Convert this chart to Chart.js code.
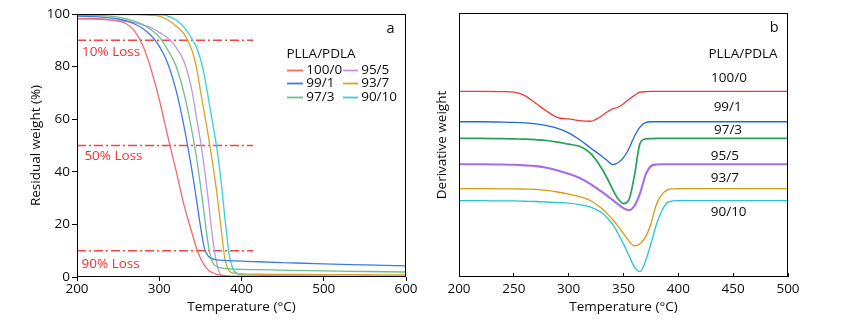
<!DOCTYPE html>
<html><head><meta charset="utf-8">
<script src="https://cdn.jsdelivr.net/npm/chart.js@4.4.1/dist/chart.umd.min.js"></script>
<style>
html,body{margin:0;padding:0;background:#fff;}
#wrap{position:relative;width:865px;height:324px;overflow:hidden;background:#fff;}
#c1{position:absolute;left:0;top:0;}
#c2{position:absolute;left:430px;top:0;}
</style></head><body>
<div id="wrap"><canvas id="c1" width="430" height="324" style="width:430px;height:324px"></canvas><canvas id="c2" width="435" height="324" style="width:435px;height:324px"></canvas></div>
<script>
// ---------- DATA ----------
const seriesNames = ['100/0','99/1','97/3','95/5','93/7','90/10'];

// (a) TGA residual weight (%)
const tgaTemps = [200,220,240,250,260,270,280,290,300,310,320,330,340,345,350,355,360,365,370,375,380,385,390,395,400,420,450,500,550,600];
const tga100_0 = [98.3,98.2,97.8,97.3,96.3,93.5,88.0,79.0,67.5,54.0,41.0,27.5,16.5,11.2,7.2,4.4,2.6,1.6,1.0,0.7,0.5,0.4,0.35,0.3,0.3,0.2,0.15,0.05,0,0];
const tga99_1  = [99.2,99.0,98.5,98.1,97.4,96.2,94.5,91.8,87.8,81.5,71.5,57.5,40.0,30.0,19.5,10.8,7.8,6.9,6.5,6.4,6.3,6.2,6.15,6.1,6.0,5.8,5.5,5.0,4.6,4.2];
const tga97_3  = [99.6,99.5,99.2,98.8,98.1,97.2,96.0,94.0,91.3,86.5,80.5,70.0,55.0,46.0,35.0,23.0,11.5,5.5,4.0,3.5,3.2,3.1,3.0,2.95,2.9,2.8,2.6,2.3,2.1,1.9];
const tga95_5  = [98.2,98.1,97.8,97.5,97.2,96.7,95.8,94.8,93.0,91.0,87.5,82.0,70.5,61.0,52.0,41.0,28.5,14.5,5.0,0.8,0.2,0.05,0,0,0,0,0,0,0,0];
const tga93_7  = [99.8,99.8,99.8,99.8,99.8,99.8,99.7,99.5,99.2,97.8,95.5,92.5,86.0,80.0,71.0,62.0,53.0,43.0,32.0,19.0,6.5,2.3,1.5,1.25,1.15,1.05,1.0,0.9,0.85,0.8];
const tga90_10 = [99.9,99.9,99.9,99.9,99.9,99.9,99.9,99.9,99.7,99.3,97.8,95.0,90.5,87.5,83.0,76.5,67.5,58.5,49.0,37.0,22.0,8.5,2.8,1.4,1.0,0.7,0.5,0.4,0.3,0.3];
const lossLevels = [90,50,10];
const lossLabels = ['10% Loss','50% Loss','90% Loss'];
const lossRange = [200,414];
const tgaXRange = [200,600];
const tgaYRange = [0,100];

// (b) DTG derivative weight (arbitrary, offset curves)
const dtgTemps = [200,220,240,250,260,270,280,290,300,310,320,330,335,340,345,350,355,360,365,370,375,380,385,390,395,400,420,450,500];
const dtg100_0 = [70.3,70.3,70.2,70.0,68.7,65.8,62.8,60.4,59.9,59.2,59.0,61.0,62.5,63.7,64.3,65.6,67.3,68.8,70.0,70.2,70.3,70.3,70.3,70.3,70.3,70.3,70.3,70.3,70.3];
const dtg99_1  = [58.8,58.8,58.7,58.6,58.4,58.0,57.3,56.3,54.6,52.0,48.9,45.8,44.2,42.6,43.3,45.2,48.7,53.3,56.8,58.5,58.8,58.8,58.8,58.8,58.8,58.8,58.8,58.8,58.8];
const dtg97_3  = [52.5,52.5,52.4,52.3,52.2,52.0,51.7,51.1,50.3,49.5,46.8,41.2,37.5,33.3,29.6,27.8,29.3,38.5,50.5,52.3,52.4,52.5,52.5,52.5,52.5,52.5,52.5,52.5,52.5];
const dtg95_5  = [42.7,42.7,42.6,42.5,42.3,42.0,41.4,40.3,39.1,37.5,35.2,32.3,30.8,29.2,27.6,26.1,25.3,27.0,31.6,38.5,42.0,42.6,42.7,42.7,42.7,42.7,42.7,42.7,42.7];
const dtg93_7  = [33.5,33.5,33.4,33.4,33.3,33.2,32.8,32.2,31.4,30.4,28.9,26.0,24.0,21.8,19.3,16.4,13.6,11.8,12.5,15.1,20.2,27.5,31.3,33.0,33.4,33.5,33.5,33.5,33.5];
const dtg90_10 = [28.9,28.9,28.8,28.8,28.7,28.6,28.4,28.2,28.0,27.4,26.5,24.4,22.4,20.0,16.5,12.5,8.1,3.7,2.0,6.0,12.6,19.9,25.1,28.2,28.8,28.9,28.9,28.9,28.9];
const dtgXRange = [200,500];
const dtgYRange = [0,100];

// ---------- STYLE ----------
const FONT = "'Open Sans', 'Noto Sans', sans-serif";
const FS = 13.5;
const TXT = '#0d0d0d';
const tgaColors = ['#f26b6b','#3d7ce6','#6cbf8b','#c096ea','#d9a42a','#36d2d4'];
const dtgColors = ['#ee3a3a','#2468d8','#28a05a','#a86de6','#d49c12','#1ec8cc'];
const dtgWidths = [1.3,1.3,1.7,2.1,1.3,1.3];
const lossColor = '#f04646';

Chart.defaults.font.family = FONT;
Chart.defaults.font.size = FS;
Chart.defaults.color = TXT;

const zip = (xs, ys) => xs.map((x, i) => ({x, y: ys[i]}));

const framePlugin = {
  id: 'frame',
  afterDraw(chart) {
    const {ctx, chartArea: a} = chart;
    ctx.save();
    ctx.strokeStyle = '#000';
    ctx.lineWidth = 1;
    ctx.strokeRect(Math.round(a.left) + 0.5, Math.round(a.top) + 0.5, Math.round(a.right - a.left) - 1, Math.round(a.bottom - a.top) - 1);
    ctx.restore();
  }
};

const textPlugin = {
  id: 'texts',
  afterDatasetsDraw(chart, args, opts) {
    const {ctx, scales: {x, y}} = chart;
    (opts.items || []).forEach(it => {
      ctx.save();
      ctx.font = (it.size || FS) + 'px ' + FONT;
      ctx.fillStyle = it.color || TXT;
      ctx.textAlign = it.align || 'left';
      ctx.textBaseline = 'middle';
      ctx.fillText(it.text, x.getPixelForValue(it.x), y.getPixelForValue(it.y));
      ctx.restore();
    });
  }
};

const keyPlugin = {
  id: 'key',
  afterDatasetsDraw(chart, args, opts) {
    if (!opts.rows) return;
    const {ctx, scales: {x, y}} = chart;
    ctx.save();
    ctx.font = FS + 'px ' + FONT;
    ctx.fillStyle = TXT;
    ctx.textBaseline = 'middle';
    ctx.textAlign = 'left';
    ctx.fillText(opts.title, x.getPixelForValue(opts.titleX), y.getPixelForValue(opts.titleY));
    opts.items.forEach((it, i) => {
      const col = opts.cols[it.col];
      const py = Math.round(y.getPixelForValue(opts.rows[it.row])) + 0.5;
      ctx.strokeStyle = chart.data.datasets[i].borderColor;
      ctx.lineWidth = 1.8;
      ctx.beginPath();
      ctx.moveTo(x.getPixelForValue(col[0]), py);
      ctx.lineTo(x.getPixelForValue(col[1]), py);
      ctx.stroke();
      ctx.fillText(chart.data.datasets[i].label, x.getPixelForValue(col[2]), py);
    });
    ctx.restore();
  }
};

// ---------- CHART A ----------
const tgaSeries = [tga100_0, tga99_1, tga97_3, tga95_5, tga93_7, tga90_10];
const tgaDatasets = tgaSeries.map((s, i) => ({
  label: seriesNames[i], data: zip(tgaTemps, s),
  borderColor: tgaColors[i], borderWidth: 1.3, pointRadius: 0,
  cubicInterpolationMode: 'monotone', fill: false
}));
lossLevels.forEach(l => tgaDatasets.push({
  label: 'loss' + l, data: [{x: lossRange[0], y: l}, {x: lossRange[1], y: l}],
  borderColor: lossColor, borderWidth: 1.4, borderDash: [9, 3, 2, 3], pointRadius: 0, fill: false
}));

new Chart(document.getElementById('c1'), {
  type: 'line',
  data: {datasets: tgaDatasets},
  options: {
    responsive: false, animation: false, devicePixelRatio: 1,
    layout: {padding: {left: 0, right: 24, top: 14, bottom: 0}},
    plugins: {
      legend: {display: false}, tooltip: {enabled: false},
      texts: {items: [
        {text: 'a', x: 581.3, y: 94.2, align: 'center', size: 14.5},
        {text: lossLabels[0], x: 206.2, y: 85.6, color: '#f03232'},
        {text: lossLabels[1], x: 209.0, y: 45.9, color: '#f03232'},
        {text: lossLabels[2], x: 205.5, y: 4.7, color: '#f03232'}
      ]},
      key: {
        title: 'PLLA/PDLA', titleX: 454.6, titleY: 84.8,
        rows: [78.7, 73.6, 68.3],
        cols: [[455.3, 474.8, 478.8], [523.4, 541.6, 545.5]],
        items: [{col:0,row:0},{col:0,row:1},{col:0,row:2},{col:1,row:0},{col:1,row:1},{col:1,row:2}]
      }
    },
    scales: {
      x: {
        type: 'linear', min: tgaXRange[0], max: tgaXRange[1],
        ticks: {stepSize: 100, padding: 0, color: TXT, font: {size: FS}},
        grid: {drawOnChartArea: false, tickLength: 4, color: '#000'},
        border: {display: false},
        title: {display: true, text: 'Temperature (°C)', color: TXT, font: {size: FS}, padding: {top: 0, bottom: 9}},
        afterFit(s) { s.height = 47; }
      },
      y: {
        min: tgaYRange[0], max: tgaYRange[1],
        ticks: {stepSize: 20, padding: 2, color: TXT, font: {size: FS}},
        grid: {drawOnChartArea: false, tickLength: 5, color: '#000'},
        border: {display: false},
        title: {display: true, text: 'Residual weight (%)', color: TXT, font: {size: FS}, padding: {top: 28, bottom: 0}},
        afterFit(s) { s.width = 77; }
      }
    }
  },
  plugins: [framePlugin, textPlugin, keyPlugin]
});

// ---------- CHART B ----------
const dtgSeries = [dtg100_0, dtg99_1, dtg97_3, dtg95_5, dtg93_7, dtg90_10];
const dtgDatasets = dtgSeries.map((s, i) => ({
  label: seriesNames[i], data: zip(dtgTemps, s),
  borderColor: dtgColors[i], borderWidth: dtgWidths[i], pointRadius: 0,
  cubicInterpolationMode: 'monotone', fill: false
}));
const dtgLabelPos = [[446.2, 75.5], [445.0, 64.5], [445.3, 55.7], [442.4, 45.9], [442.4, 37.4], [445.9, 24.4]];

new Chart(document.getElementById('c2'), {
  type: 'line',
  data: {datasets: dtgDatasets},
  options: {
    responsive: false, animation: false, devicePixelRatio: 1,
    layout: {padding: {left: 0, right: 77, top: 13, bottom: 0}},
    plugins: {
      legend: {display: false}, tooltip: {enabled: false},
      texts: {items: [
        {text: 'b', x: 487.3, y: 94.3, align: 'center', size: 14.5},
        {text: 'PLLA/PDLA', x: 459.0, y: 84.5, align: 'center'}
      ].concat(seriesNames.map((n, i) => ({text: n, x: dtgLabelPos[i][0], y: dtgLabelPos[i][1], align: 'center'})))}
    },
    scales: {
      x: {
        type: 'linear', min: dtgXRange[0], max: dtgXRange[1],
        ticks: {stepSize: 50, padding: 8, color: TXT, font: {size: FS}},
        grid: {drawOnChartArea: false, tickLength: -4, color: '#000'},
        border: {display: false},
        title: {display: true, text: 'Temperature (°C)', color: TXT, font: {size: FS}, padding: {top: 0, bottom: 9}},
        afterFit(s) { s.height = 47; }
      },
      y: {
        min: dtgYRange[0], max: dtgYRange[1],
        ticks: {display: false},
        grid: {display: false},
        border: {display: false},
        title: {display: true, text: 'Derivative weight', color: TXT, font: {size: FS}, padding: {top: 4, bottom: 0}},
        afterFit(s) { s.width = 29; }
      }
    }
  },
  plugins: [framePlugin, textPlugin]
});
</script>
</body></html>
